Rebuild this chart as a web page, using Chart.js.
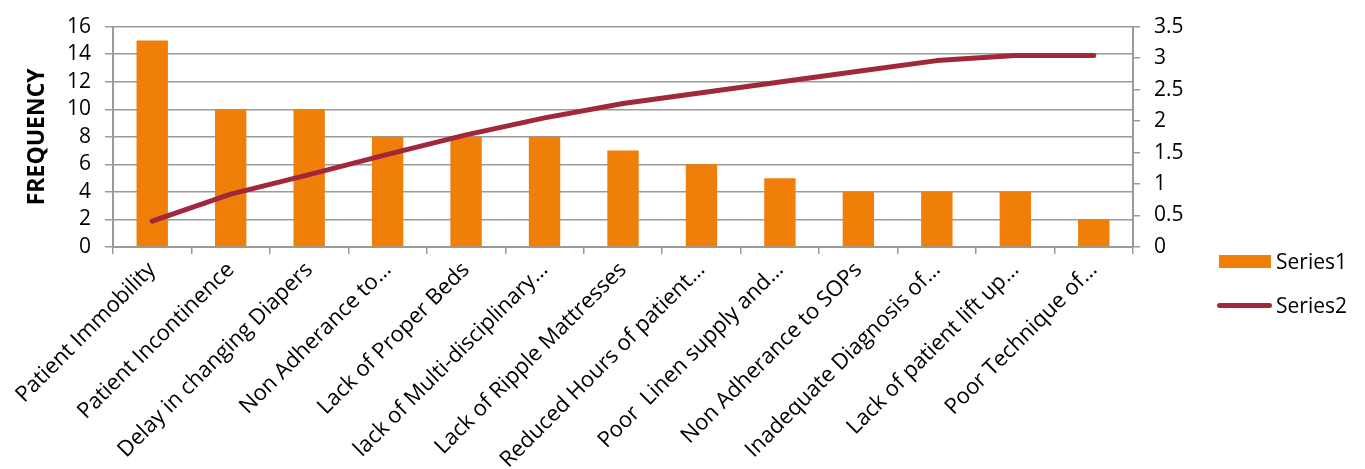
<!DOCTYPE html>
<html>
<head>
<meta charset="utf-8">
<script src="https://cdn.jsdelivr.net/npm/chart.js@4/dist/chart.umd.min.js"></script>
<style>
  html, body { margin: 0; padding: 0; background: #fff; overflow: hidden; }
  #wrap { position: relative; width: 1365px; height: 469px; }
  canvas { position: absolute; left: 0; top: 0; }
  .leg { position: absolute; font-family: "Open Sans", sans-serif; font-size: 21px; color: #000; line-height: 22px; }
  .sw1 { position: absolute; left: 1219px; top: 255px; width: 52px; height: 13px; background: #F07F09; }
  .sw2 { position: absolute; left: 1217px; top: 303px; width: 55px; height: 5px; background: #A0283A; border-radius: 3px; }
</style>
</head>
<body>
<div id="wrap">
  <canvas id="c" width="1365" height="469"></canvas>
  <div class="sw1"></div>
  <div class="leg" style="left:1276px; top:250px;">Series1</div>
  <div class="sw2"></div>
  <div class="leg" style="left:1276px; top:294px;">Series2</div>
</div>
<script>
const categories = [
  "Patient Immobility",
  "Patient Incontinence",
  "Delay in changing Diapers",
  "Non Adherance to\u2026",
  "Lack of Proper Beds",
  "lack of Multi-disciplinary\u2026",
  "Lack of Ripple Mattresses",
  "Reduced Hours of patient\u2026",
  "Poor  Linen supply and\u2026",
  "Non Adherance to SOPs",
  "Inadequate Diagnosis of\u2026",
  "Lack of patient lift up\u2026",
  "Poor Technique of\u2026"
];
const series1 = [15, 10, 10, 8, 8, 8, 7, 6, 5, 4, 4, 4, 2];
const series2 = [0.41, 0.84, 1.15, 1.47, 1.78, 2.05, 2.28, 2.45, 2.62, 2.79, 2.96, 3.04, 3.04];
const leftTicks = [0, 2, 4, 6, 8, 10, 12, 14, 16];
const rightTicks = [0, 0.5, 1, 1.5, 2, 2.5, 3, 3.5];

const FONT = "'Open Sans', sans-serif";
const GRID = "#9a9a9a";

new Chart(document.getElementById("c"), {
  data: {
    labels: categories,
    datasets: [
      {
        type: "line", label: "Series2", data: series2, yAxisID: "y2", order: 0,
        borderColor: "#A0283A", borderWidth: 5, pointRadius: 0, tension: 0,
        borderCapStyle: "round", borderJoinStyle: "round", fill: false
      },
      {
        type: "bar", label: "Series1", data: series1, yAxisID: "y", order: 1,
        backgroundColor: "#F07F09", barPercentage: 0.4, categoryPercentage: 1.0
      }
    ]
  },
  options: {
    responsive: false,
    animation: false,
    layout: { padding: { left: 0, right: 145, top: 7, bottom: 0 } },
    plugins: { legend: { display: false }, tooltip: { enabled: false } },
    scales: {
      x: {
        offset: true,
        grid: { offset: true, drawOnChartArea: false, drawTicks: true, tickLength: 7, color: GRID, lineWidth: 1.5 },
        border: { color: GRID, width: 2 },
        ticks: {
          autoSkip: false, maxRotation: 45, minRotation: 45, padding: 3,
          color: "#000", font: { family: FONT, size: 22 }
        },
        afterFit: (s) => { s.height = 222; }
      },
      y: {
        position: "left", min: 0, max: 16,
        afterBuildTicks: (s) => { s.ticks = leftTicks.map(v => ({ value: v })); },
        grid: { color: GRID, lineWidth: 1.5, tickLength: 8 },
        border: { color: GRID, width: 2 },
        ticks: { autoSkip: false, color: "#000", padding: 14, font: { family: FONT, size: 21 },
                 callback: (v) => String(v) },
        title: { display: true, text: "FREQUENCY", color: "#000", padding: { top: 24, bottom: 0 },
                 font: { family: FONT, size: 23, weight: "bold" } },
        afterFit: (s) => { s.width = 113; }
      },
      y2: {
        position: "right", min: 0, max: 3.5,
        afterBuildTicks: (s) => { s.ticks = rightTicks.map(v => ({ value: v })); },
        grid: { drawOnChartArea: false, color: GRID, lineWidth: 1.5, tickLength: 7 },
        border: { color: GRID, width: 2 },
        ticks: { autoSkip: false, color: "#000", padding: 14, font: { family: FONT, size: 21 },
                 callback: (v) => String(v) },
        afterFit: (s) => { s.width = 87; }
      }
    }
  }
});
</script>
</body>
</html>
